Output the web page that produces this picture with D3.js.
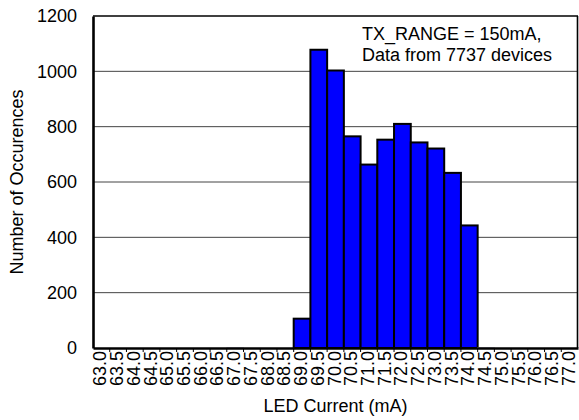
<!DOCTYPE html>
<html>
<head>
<meta charset="utf-8">
<script src="https://cdn.jsdelivr.net/npm/d3@7"></script>
<style>
  html, body { margin: 0; padding: 0; background: #fff; }
  svg { display: block; font-family: "Liberation Sans", Arial, sans-serif; }
</style>
</head>
<body>
<svg id="chart" width="579" height="420"></svg>
<script>
// Histogram bins (LED current, mA) and device counts per bin
const binLabels = ["63.0","63.5","64.0","64.5","65.0","65.5","66.0","66.5","67.0","67.5",
                   "68.0","68.5","69.0","69.5","70.0","70.5","71.0","71.5","72.0","72.5",
                   "73.0","73.5","74.0","74.5","75.0","75.5","76.0","76.5","77.0"];
const counts    = [0,0,0,0,0,0,0,0,1,0,
                   0,0,106,1078,1003,765,663,753,810,743,
                   721,633,443,1,0,0,0,0,0];
const yTicks = [0, 200, 400, 600, 800, 1000, 1200];
const noteLines = ["TX_RANGE = 150mA,", "Data from 7737 devices"];

const svg = d3.select("#chart");
const m = { left: 93, right: 578, top: 16, bottom: 348 };

const x = d3.scaleBand().domain(binLabels).range([m.left, m.right]).padding(0);
const y = d3.scaleLinear().domain([0, 1200]).range([m.bottom, m.top]);

// Horizontal grid lines
svg.append("g")
  .selectAll("line")
  .data(yTicks.filter(t => t > 0 && t < 1200))
  .join("line")
  .attr("x1", m.left).attr("x2", m.right)
  .attr("y1", d => y(d)).attr("y2", d => y(d))
  .attr("stroke", "#444").attr("stroke-width", 1);

// Bars
svg.append("g")
  .selectAll("rect")
  .data(binLabels.map((b, i) => ({ b, v: counts[i] })).filter(d => d.v > 0))
  .join("rect")
  .attr("x", d => x(d.b))
  .attr("y", d => y(d.v))
  .attr("width", x.bandwidth())
  .attr("height", d => y(0) - y(d.v))
  .attr("fill", "#0000ff")
  .attr("stroke", d => d.v < 5 ? "#ccc" : "#000")
  .attr("stroke-width", d => d.v < 5 ? 1 : 2);

// Frame: top and right thin, left and bottom heavier
svg.append("line").attr("x1", m.left).attr("x2", m.right).attr("y1", m.top).attr("y2", m.top)
  .attr("stroke", "#000").attr("stroke-width", 1.6);
svg.append("line").attr("x1", m.right - 0.5).attr("x2", m.right - 0.5).attr("y1", m.top).attr("y2", m.bottom)
  .attr("stroke", "#000").attr("stroke-width", 1.6);

// Y axis
const yAxis = svg.append("g")
  .attr("transform", `translate(${m.left},0)`)
  .call(d3.axisLeft(y).tickValues(yTicks).tickSize(0).tickPadding(16).tickFormat(d3.format("d")));
yAxis.select(".domain").attr("stroke", "#000").attr("stroke-width", 2.6);
yAxis.selectAll("text").attr("font-size", 18).attr("fill", "#000")
  .attr("font-family", "Liberation Sans, Arial, sans-serif");

// X axis with boundary ticks and vertical labels
const xAxis = svg.append("g")
  .attr("transform", `translate(0,${m.bottom})`)
  .call(d3.axisBottom(x).tickSize(0));
xAxis.select(".domain").attr("stroke", "#000").attr("stroke-width", 2.6);
xAxis.selectAll(".tick text")
  .attr("font-size", 18).attr("fill", "#000")
  .attr("font-family", "Liberation Sans, Arial, sans-serif")
  .attr("text-anchor", "end")
  .attr("transform", "rotate(-90)")
  .attr("x", -3).attr("y", 0).attr("dy", "0.28em");
xAxis.append("g")
  .selectAll("line")
  .data(binLabels.slice(1))
  .join("line")
  .attr("x1", d => x(d)).attr("x2", d => x(d))
  .attr("y1", 0).attr("y2", 4)
  .attr("stroke", "#000").attr("stroke-width", 1);

// Axis titles
svg.append("text")
  .attr("x", (m.left + m.right) / 2).attr("y", 412)
  .attr("text-anchor", "middle").attr("font-size", 18)
  .text("LED Current (mA)");
svg.append("text")
  .attr("transform", `translate(23,${(m.top + m.bottom) / 2}) rotate(-90)`)
  .attr("text-anchor", "middle").attr("font-size", 18)
  .text("Number of Occurences");

// Annotation
svg.append("g")
  .selectAll("text")
  .data(noteLines)
  .join("text")
  .attr("x", 362).attr("y", (d, i) => 40 + i * 21)
  .attr("font-size", 18)
  .text(d => d);
</script>
</body>
</html>
